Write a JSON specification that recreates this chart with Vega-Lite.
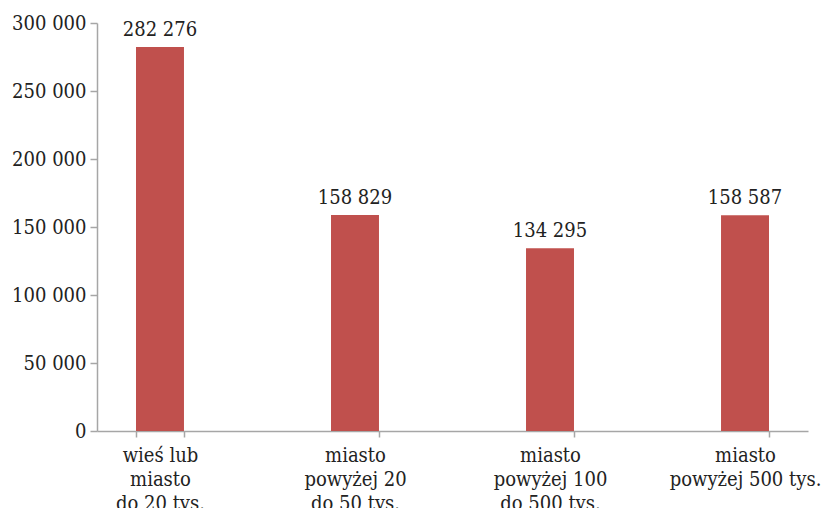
{
  "$schema": "https://vega.github.io/schema/vega-lite/v6.json",
  "width": 711,
  "height": 408,
  "autosize": "none",
  "padding": {"left": 97, "top": 23, "right": 32, "bottom": 77},
  "background": "white",
  "config": {
    "locale": {"number": {"decimal": ",", "thousands": " ", "grouping": [3], "currency": ["", " zł"]}},
    "font": "DejaVu Serif Condensed",
    "view": {"stroke": null}
  },
  "data": {
    "values": [
      {"kategoria": "wieś lub|miasto|do 20 tys.", "liczba": 282276},
      {"kategoria": "miasto|powyżej 20|do 50 tys.", "liczba": 158829},
      {"kategoria": "miasto|powyżej 100|do 500 tys.", "liczba": 134295},
      {"kategoria": "miasto|powyżej 500 tys.", "liczba": 158587}
    ]
  },
  "encoding": {
    "x": {
      "field": "kategoria",
      "type": "nominal",
      "sort": null,
      "scale": {"paddingInner": 0.754, "paddingOuter": 0.2},
      "axis": {
        "title": null,
        "labelAngle": 0,
        "labelExpr": "split(datum.label, '|')",
        "labelFont": "DejaVu Serif Condensed",
        "labelFontSize": 20,
        "labelColor": "#222222",
        "labelLineHeight": 24,
        "labelPadding": 8,
        "labelBaseline": "top",
        "tickBand": "extent",
        "tickSize": 6,
        "tickColor": "#a6a6a6",
        "domainColor": "#a6a6a6",
        "domainWidth": 1.5,
        "tickWidth": 1.5
      }
    },
    "y": {
      "field": "liczba",
      "type": "quantitative",
      "scale": {"domain": [0, 300000], "nice": false},
      "axis": {
        "title": null,
        "values": [0, 50000, 100000, 150000, 200000, 250000, 300000],
        "labelExpr": "format(datum.value, ',')",
        "grid": false,
        "labelFont": "DejaVu Serif Condensed",
        "labelFontSize": 20,
        "labelColor": "#222222",
        "labelPadding": 4,
        "tickSize": 7,
        "tickColor": "#a6a6a6",
        "domainColor": "#a6a6a6",
        "domainWidth": 1.5,
        "tickWidth": 1.5
      }
    }
  },
  "layer": [
    {"mark": {"type": "bar", "color": "#c0504d"}},
    {
      "mark": {"type": "text", "baseline": "alphabetic", "dy": -11, "fontSize": 20, "color": "#222222", "font": "DejaVu Serif Condensed"},
      "encoding": {"text": {"field": "liczba", "type": "quantitative", "format": ","}}
    }
  ]
}
